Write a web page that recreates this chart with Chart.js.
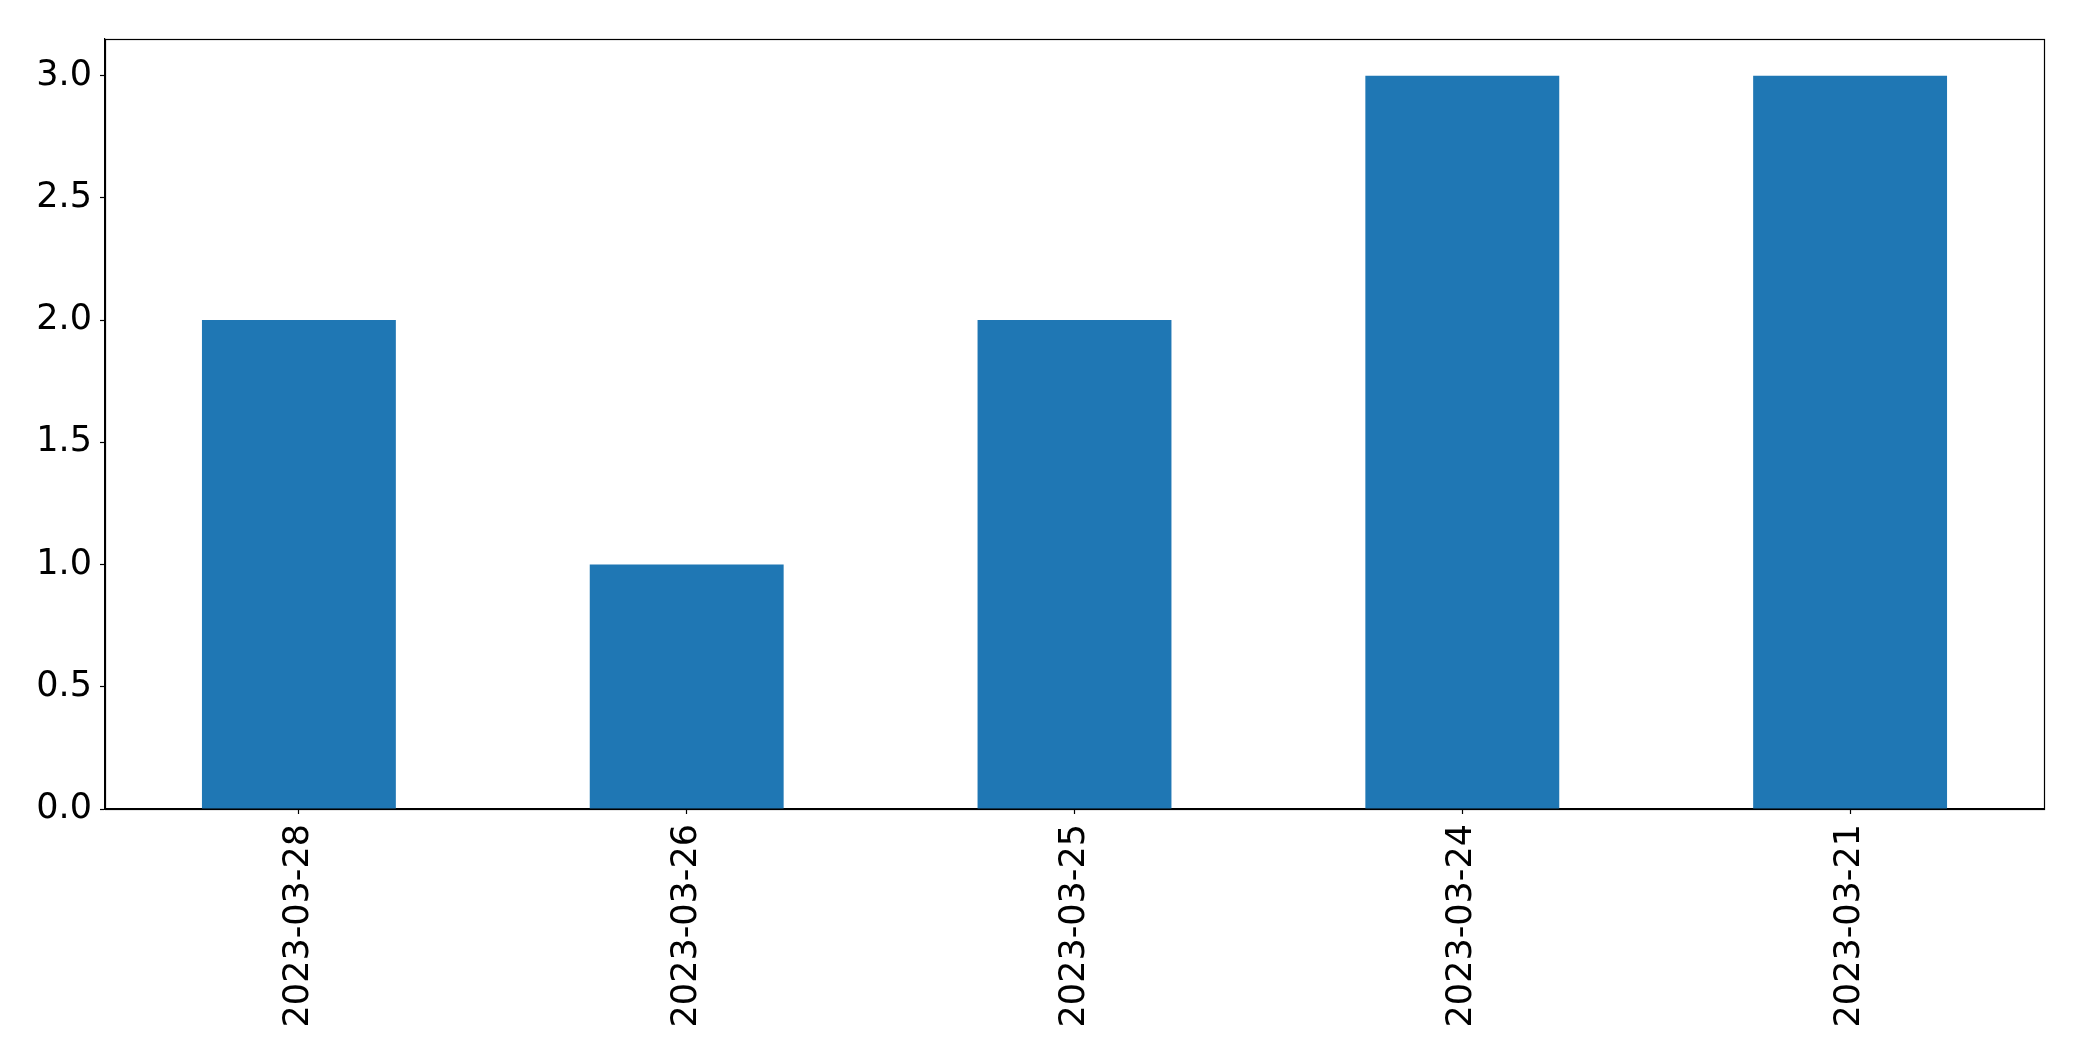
<!DOCTYPE html>
<html>
<head>
<meta charset="utf-8">
<script src="https://cdn.jsdelivr.net/npm/chart.js@4/dist/chart.umd.min.js"></script>
<style>
  html, body { margin: 0; padding: 0; background: #fff; }
  canvas { display: block; }
</style>
</head>
<body>
<canvas id="c" width="2082" height="1061"></canvas>
<script>
const categories = ['2023-03-28', '2023-03-26', '2023-03-25', '2023-03-24', '2023-03-21'];
const values = [2, 1, 2, 3, 3];
const yTicks = [0, 0.5, 1.0, 1.5, 2.0, 2.5, 3.0];
const yMax = 3.15;

const FONT = { family: '"DejaVu Sans", sans-serif', size: 35 };

const frame = {
  id: 'frame',
  afterDatasetsDraw(chart) {
    const a = chart.chartArea, ctx = chart.ctx;
    ctx.save();
    ctx.strokeStyle = '#000';
    ctx.lineWidth = 1.2;
    ctx.strokeRect(Math.round(a.left) + 0.5, Math.round(a.top) + 0.5,
                   Math.round(a.right - a.left), Math.round(a.bottom - a.top));
    ctx.restore();
  }
};

new Chart(document.getElementById('c'), {
  type: 'bar',
  data: {
    labels: categories,
    datasets: [{
      data: values,
      backgroundColor: '#1f77b4',
      borderWidth: 0,
      categoryPercentage: 1.0,
      barPercentage: 0.5
    }]
  },
  options: {
    responsive: false,
    devicePixelRatio: 1,
    animation: false,
    layout: { padding: { top: 39, right: 38, left: 0, bottom: 0 } },
    plugins: { legend: { display: false }, tooltip: { enabled: false } },
    scales: {
      x: {
        offset: true,
        grid: { display: true, offset: false, drawOnChartArea: false, drawTicks: true,
                tickLength: 5, tickColor: '#000', tickWidth: 1.2 },
        border: { display: true, color: '#000', width: 1.2 },
        ticks: { color: '#000', font: FONT, minRotation: 90, maxRotation: 90,
                 autoSkip: false, padding: 10 },
        afterFit(s) { s.height = 252; }
      },
      y: {
        min: 0, max: yMax,
        grid: { display: true, drawOnChartArea: false, drawTicks: true,
                tickLength: 5, tickColor: '#000', tickWidth: 1.2 },
        border: { display: true, color: '#000', width: 1.2 },
        ticks: { color: '#000', font: FONT, padding: 8,
                 callback: v => Number(v).toFixed(1) },
        afterBuildTicks(s) { s.ticks = yTicks.map(v => ({ value: v })); },
        afterFit(s) { s.width = 105; }
      }
    }
  },
  plugins: [frame]
});
</script>
</body>
</html>
